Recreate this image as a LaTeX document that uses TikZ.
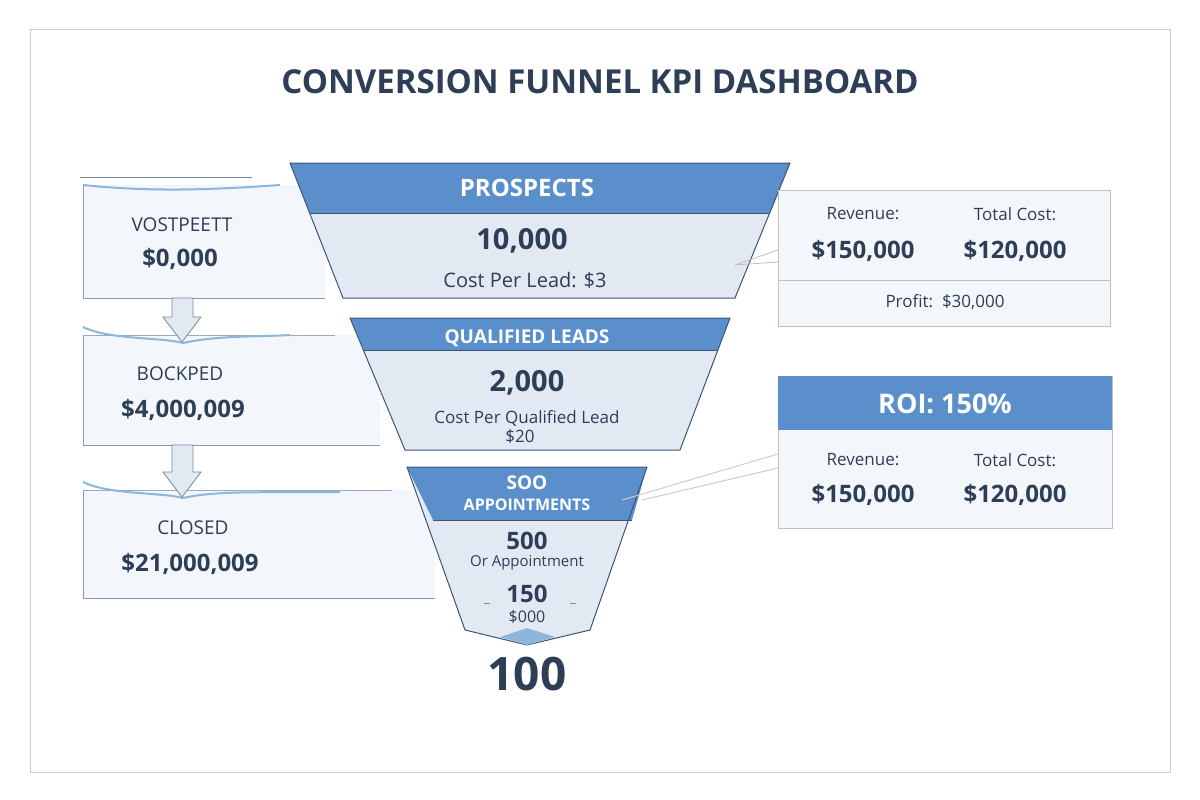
\documentclass[tikz,border=0pt]{standalone}
\usepackage{fontspec}
\setmainfont{Open Sans}
\usetikzlibrary{arrows.meta}
\definecolor{hdr}{HTML}{5B8FCC}
\definecolor{ink}{HTML}{2E3E57}
\definecolor{body}{HTML}{E2E9F3}
\definecolor{edge}{HTML}{3D5575}
\definecolor{pane}{HTML}{F3F6FA}
\definecolor{wave}{HTML}{8DB6DD}
\tikzset{
 lbl/.style={text=ink,inner sep=0pt,anchor=center},
 wlbl/.style={text=white,inner sep=0pt,anchor=center,font=\bfseries},
 fz/.style={font=\fontsize{#1}{#1}\selectfont},
 card/.style={draw=gray!50,fill=pane,line width=0.8pt},
 ray/.style={draw=ink!70,line width=1pt},
 dnarrow/.style={draw=edge!70,fill=body,line width=0.8pt},
}
\begin{document}
\begin{tikzpicture}[x=1pt,y=-1pt]
\useasboundingbox (0,0) rectangle (1200,800);
\fill[white] (0,0) rectangle (1200,800);
\draw[gray!40,line width=1pt] (30,30) rectangle (1170,772);
\node[lbl,fz=33,font=\bfseries\fontsize{33}{33}\selectfont] (title) at (600,82) {CONVERSION FUNNEL KPI DASHBOARD};

% left panels
\fill[pane] (83,185) rectangle (325,298);
\draw[edge!70,line width=0.9pt] (80,177)--(252,177);
\draw[edge!60,line width=0.8pt] (83,185)--(83,298)--(325,298);
\draw[wave,line width=2pt] (83,185) .. controls (150,192) and (210,190) .. (280,185);
\node[lbl,fz=19] (p1a) at (182,225) {VOSTPEETT};
\node[lbl,fz=24,font=\bfseries\fontsize{24}{24}\selectfont] (p1b) at (180,259) {\$0,000};

\fill[pane] (83,335) rectangle (380,445);
\draw[edge!60,line width=0.8pt] (83,335)--(83,445)--(380,445);
\draw[edge!50,line width=0.8pt] (83,335)--(335,335);
\draw[wave,line width=2pt] (83,327) .. controls (110,340) and (160,337) .. (183,343) .. controls (220,335) and (260,337) .. (290,335);
\node[lbl,fz=19] (p2a) at (180,374) {BOCKPED};
\node[lbl,fz=24,font=\bfseries\fontsize{24}{24}\selectfont] (p2b) at (183,410) {\$4,000,009};

\fill[pane] (83,490) rectangle (435,598);
\draw[edge!60,line width=0.8pt] (83,490)--(83,598)--(435,598);
\draw[edge!50,line width=0.8pt] (83,490)--(392,490);
\draw[wave,line width=2pt] (83,482) .. controls (110,495) and (160,492) .. (183,498) .. controls (220,490) and (260,493) .. (340,492);
\node[lbl,fz=19] (p3a) at (193,528) {CLOSED};
\node[lbl,fz=24,font=\bfseries\fontsize{24}{24}\selectfont] (p3b) at (190,564) {\$21,000,009};

\draw[dnarrow] (172,298)--(193,298)--(193,317)--(201,317)--(182,342)--(163,317)--(172,317)--cycle;
\draw[dnarrow] (172,445)--(193,445)--(193,472)--(201,472)--(182,497)--(163,472)--(172,472)--cycle;

% funnel stage 1
\fill[body] (290,163)--(790,163)--(735,298)--(343,298)--cycle;
\fill[hdr] (290,163)--(790,163)--(770,213)--(310,213)--cycle;
\draw[edge,line width=1pt] (290,163)--(790,163)--(735,298)--(343,298)--cycle;
\draw[edge,line width=0.8pt] (310,213)--(770,213);
\node[wlbl,fz=24,font=\bfseries\fontsize{24}{24}\selectfont] (s1h) at (527,188) {PROSPECTS};
\node[lbl,fz=29,font=\bfseries\fontsize{29}{29}\selectfont] (s1n) at (522,241) {10,000};
\node[lbl,fz=20] (s1c) at (525,280) {Cost Per Lead: \$3};

% stage 2
\fill[body] (350,318)--(730,318)--(680,450)--(405,450)--cycle;
\fill[hdr] (350,318)--(730,318)--(718,350)--(364,350)--cycle;
\draw[edge,line width=1pt] (350,318)--(730,318)--(680,450)--(405,450)--cycle;
\draw[edge,line width=0.8pt] (364,350)--(718,350);
\node[wlbl,fz=19,font=\bfseries\fontsize{19}{19}\selectfont] (s2h) at (527,338) {QUALIFIED LEADS};
\node[lbl,fz=29,font=\bfseries\fontsize{29}{29}\selectfont] (s2n) at (527,383) {2,000};
\node[lbl,fz=17] (s2c) at (527,418) {Cost Per Qualified Lead};
\node[lbl,fz=17] (s2d) at (520,437) {\$20};

% stage 3
\fill[body] (407,467)--(647,467)--(590,630)--(527,645)--(465,630)--cycle;
\fill[hdr] (407,467)--(647,467)--(632,520)--(433,520)--cycle;
\draw[edge,line width=1pt] (407,467)--(647,467)--(590,630)--(527,645)--(465,630)--cycle;
\draw[edge,line width=0.8pt] (433,520)--(632,520);
\fill[wave] (500,637)--(527,628)--(555,637)--(527,645)--cycle;
\node[wlbl,fz=19,font=\bfseries\fontsize{19}{19}\selectfont] (s3a) at (527,483) {SOO};
\node[wlbl,fz=16,font=\bfseries\fontsize{16}{16}\selectfont] (s3h) at (527,505) {APPOINTMENTS};
\node[lbl,fz=24,font=\bfseries\fontsize{24}{24}\selectfont] (s3n) at (527,541) {500};
\node[lbl,fz=15] (s3c) at (527,563) {Or Appointment};
\node[lbl,fz=24,font=\bfseries\fontsize{24}{24}\selectfont] (s3m) at (527,594) {150};
\node[lbl,fz=16] (s3d) at (527,617) {\$000};
\draw[ink!60,line width=0.8pt] (484,603)--(490,603) (570,603)--(576,603);

% final
\node[lbl,fz=46,font=\bfseries\fontsize{46}{46}\selectfont] (fin) at (527,674) {100};
\foreach \a/\b/\c/\d in {433,651,452,654, 433,669,452,669, 433,687,452,684, 600,654,619,651, 600,669,619,669, 600,684,619,687,
 470,706,478,719, 500,710,503,723, 527,712,527,728, 553,710,550,723, 583,706,576,719}
  \draw[ray] (\a,\b)--(\c,\d);

% right card 1
\draw[card] (778,190) rectangle (1110,326);
\draw[gray!50,line width=0.8pt] (778,280)--(1110,280);
\node[lbl,fz=17] (r1a) at (863,214) {Revenue:};
\node[lbl,fz=17] (r1b) at (1015,214) {Total Cost:};
\node[lbl,fz=24,font=\bfseries\fontsize{24}{24}\selectfont] (r1c) at (863,251) {\$150,000};
\node[lbl,fz=24,font=\bfseries\fontsize{24}{24}\selectfont] (r1d) at (1015,251) {\$120,000};
\node[lbl,fz=17] (r1e) at (945,302) {Profit:\ \ \$30,000};
\coordinate (c1) at (735,265);
\draw[gray!50,line width=0.8pt] (c1)--(778,250) (c1)--(778,262);

% ROI card
\draw[card] (778,376) rectangle (1112,528);
\fill[hdr] (778,376) rectangle (1112,430);
\node[wlbl,fz=27,font=\bfseries\fontsize{27}{27}\selectfont] (roi) at (945,404) {ROI: 150\%};
\node[lbl,fz=17] (r2a) at (863,460) {Revenue:};
\node[lbl,fz=17] (r2b) at (1015,460) {Total Cost:};
\node[lbl,fz=24,font=\bfseries\fontsize{24}{24}\selectfont] (r2c) at (863,495) {\$150,000};
\node[lbl,fz=24,font=\bfseries\fontsize{24}{24}\selectfont] (r2d) at (1015,495) {\$120,000};
\coordinate (c2) at (622,500);
\draw[gray!40,line width=1pt] (c2)--(778,454) (642,500)--(778,468);
\end{tikzpicture}
\end{document}
